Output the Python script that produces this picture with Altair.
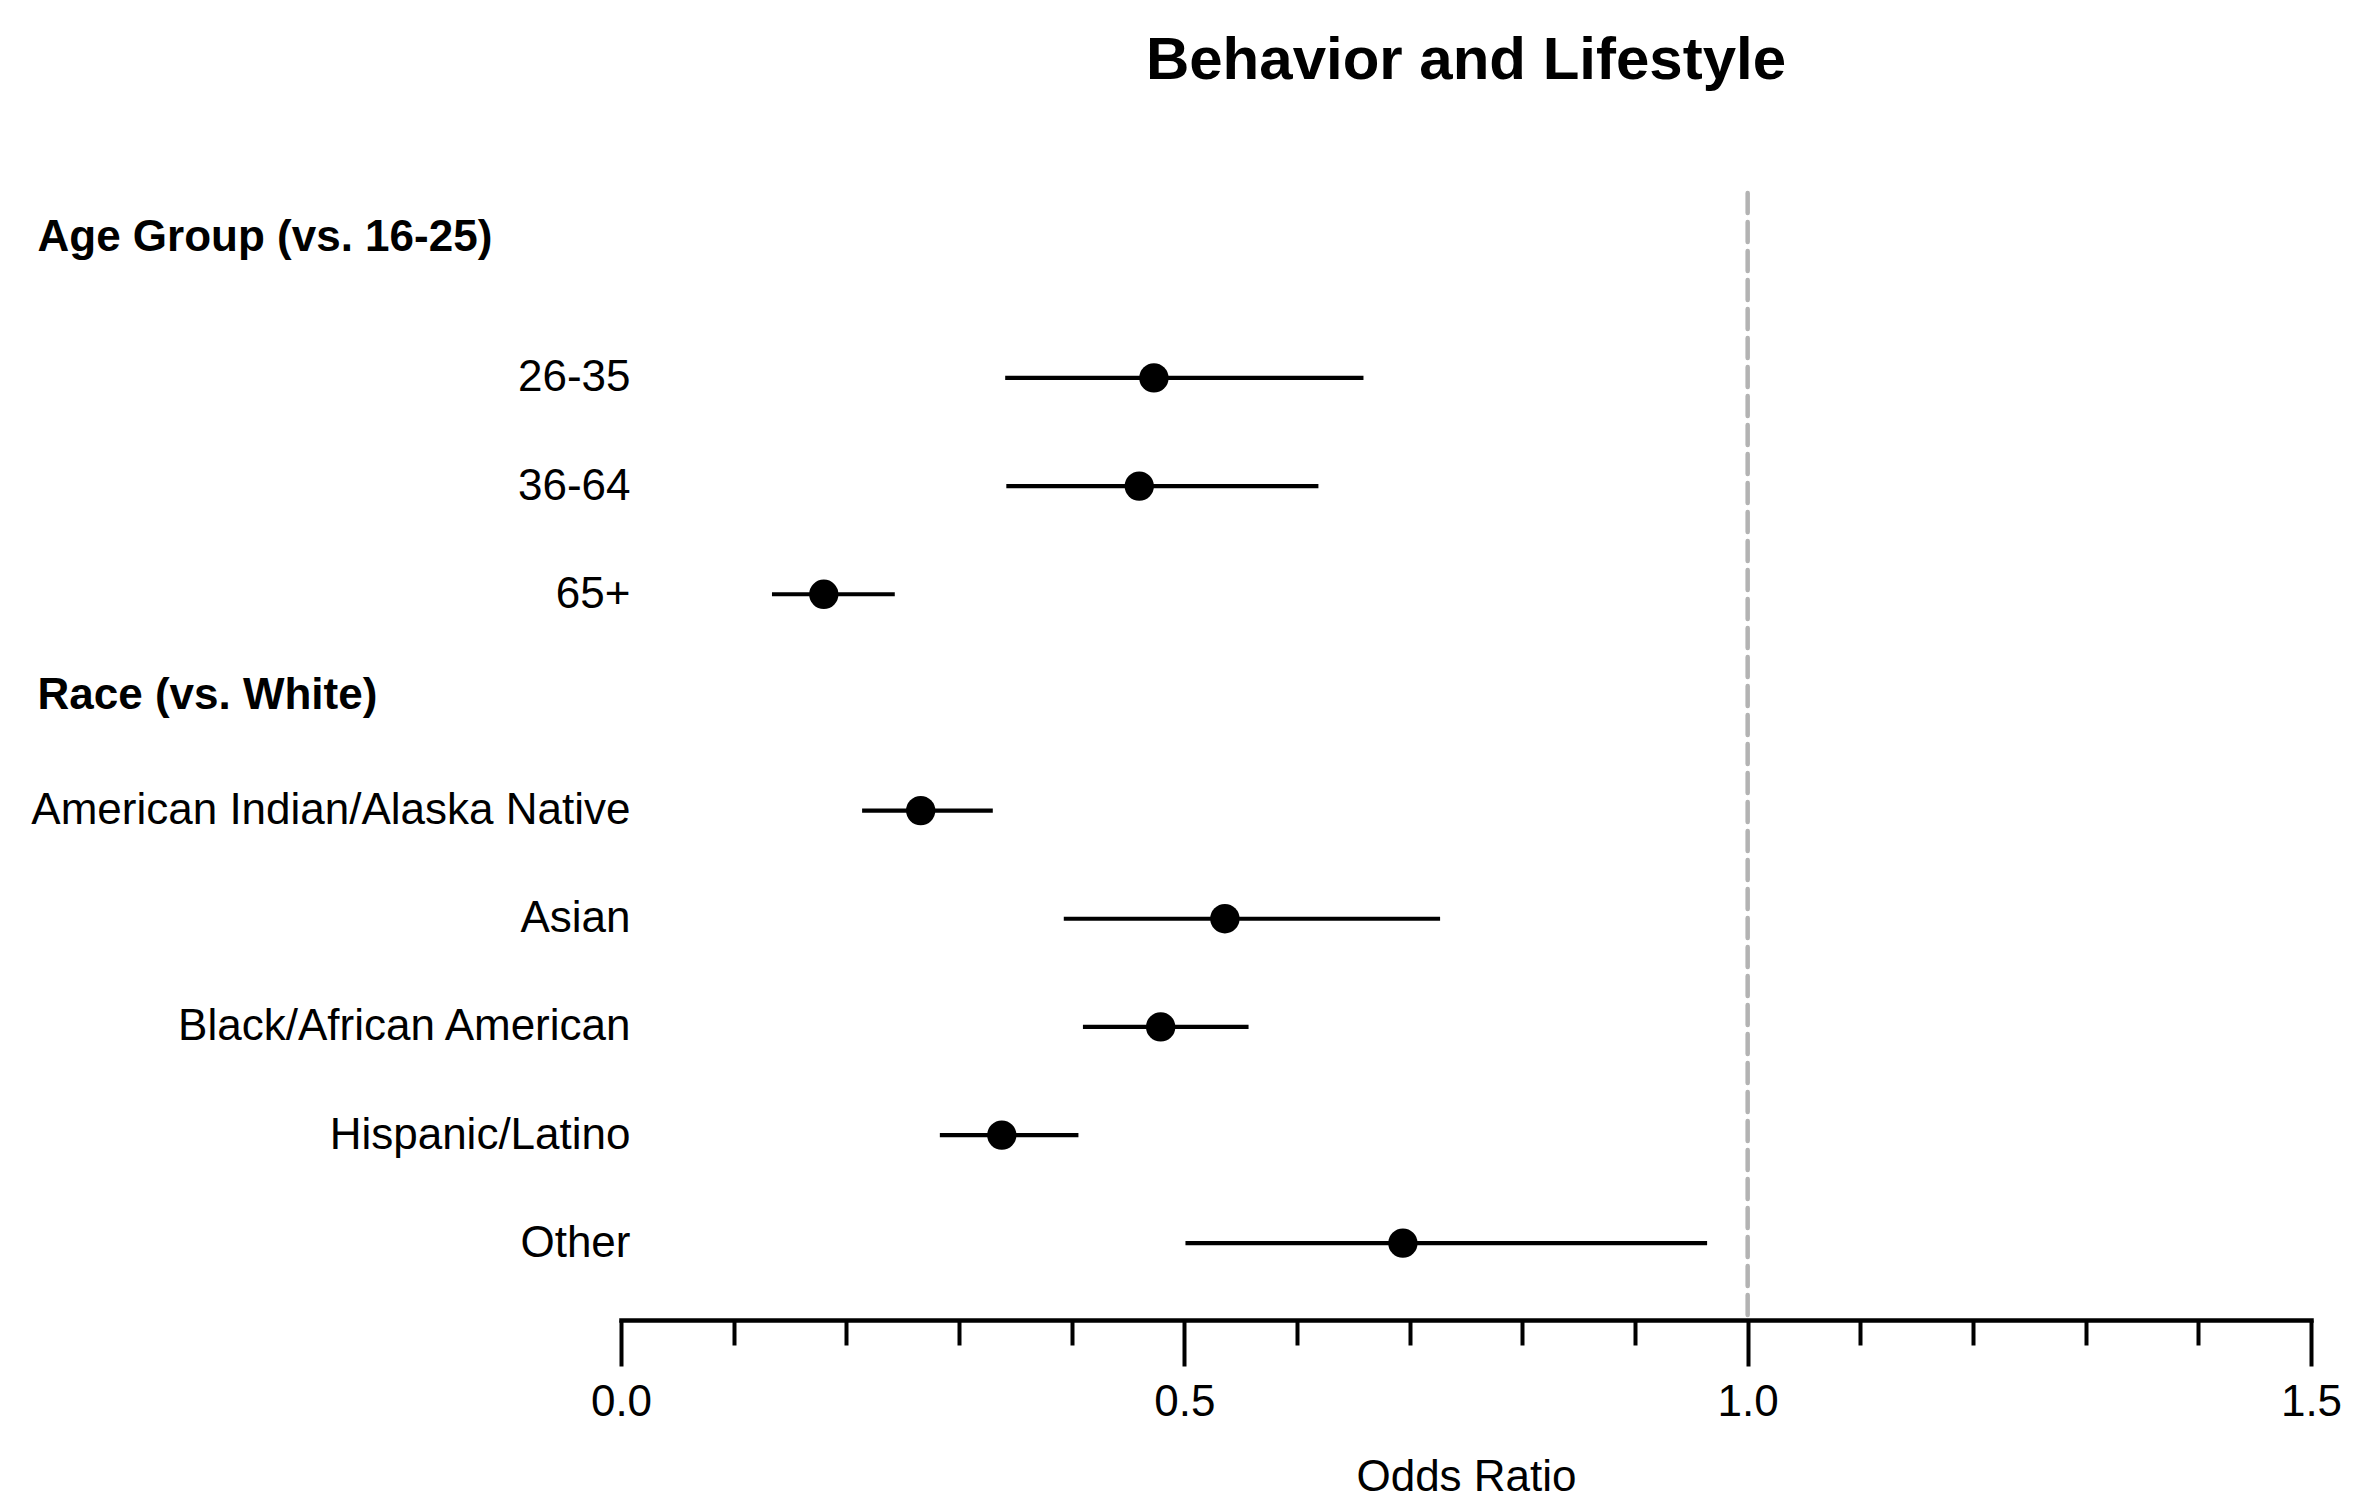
import altair as alt
import pandas as pd

AGE_HDR = "Age Group (vs. 16-25)"
RACE_HDR = "Race (vs. White)"

categories = [
    "26-35", "36-64", "65+",
    "American Indian/Alaska Native", "Asian", "Black/African American",
    "Hispanic/Latino", "Other",
]
odds = [0.473, 0.460, 0.180, 0.266, 0.536, 0.479, 0.338, 0.694]
ci_low = [0.341, 0.342, 0.134, 0.214, 0.393, 0.410, 0.283, 0.501]
ci_high = [0.659, 0.619, 0.243, 0.330, 0.727, 0.557, 0.406, 0.964]

row_order = [AGE_HDR, "26-35", "36-64", "65+", RACE_HDR,
             "American Indian/Alaska Native", "Asian", "Black/African American",
             "Hispanic/Latino", "Other"]
headers = [AGE_HDR, RACE_HDR]
x_ticks = [0.0, 0.1, 0.2, 0.3, 0.4, 0.5, 0.6, 0.7, 0.8, 0.9, 1.0,
           1.1, 1.2, 1.3, 1.4, 1.5]
ref_value = [1.0]

df = pd.DataFrame({"cat": categories, "or": odds, "lo": ci_low, "hi": ci_high})
hdr = pd.DataFrame({"cat": headers})
ref = pd.DataFrame({"v": ref_value})

FONT = "Liberation Sans"
is_hdr = f"datum.value == '{AGE_HDR}' || datum.value == '{RACE_HDR}'"
is_major = "abs(datum.value*2 - round(datum.value*2)) < 1e-6"

y_enc = alt.Y(
    "cat:N",
    sort=row_order,
    scale=alt.Scale(domain=row_order, type="point", padding=0.71),
    axis=alt.Axis(
        title=None, domain=False, ticks=False, tickSize=0, grid=False,
        labelFont=FONT, labelFontSize=44, labelColor="black", labelLimit=2000,
        labelAlign={"condition": {"test": is_hdr, "value": "left"}, "value": "right"},
        labelFontWeight={"condition": {"test": is_hdr, "value": "bold"}, "value": "normal"},
        labelPadding={"condition": {"test": is_hdr, "value": 584}, "value": -9},
        labelOffset={"condition": [
            {"test": f"datum.value == '{AGE_HDR}'", "value": -32},
            {"test": f"datum.value == '{RACE_HDR}'", "value": -7},
        ], "value": 0},
    ),
)

x_scale = alt.Scale(domain=[0, 1.5], nice=False, zero=False)
x_axis = alt.Axis(
    title="Odds Ratio", values=x_ticks, format=".1f",
    labelExpr=f"{is_major} ? datum.label : ''",
    grid=False, domainColor="black", domainWidth=4.5, tickColor="black", tickWidth=4,
    tickSize={"condition": {"test": is_major, "value": 46}, "value": 25},
    labelFont=FONT, labelFontSize=44, labelColor="black", labelPadding=14,
    titleFont=FONT, titleFontSize=44, titleFontWeight="normal", titleColor="black",
    titlePadding=31, labelFlush=False, domainCap="square",
)

base = alt.Chart(df)

rules = base.mark_rule(color="black", strokeWidth=4.2).encode(
    x=alt.X("lo:Q", scale=x_scale, axis=x_axis),
    x2="hi:Q",
    y=y_enc,
)
points = base.mark_circle(color="black", opacity=1, size=860).encode(
    x=alt.X("or:Q", scale=x_scale),
    y=alt.Y("cat:N", sort=row_order),
)
hdr_layer = alt.Chart(hdr).mark_circle(opacity=0).encode(
    y=alt.Y("cat:N", sort=row_order),
    x=alt.value(0),
)
refline = alt.Chart(ref).mark_rule(
    color="#b3b3b3", strokeWidth=4.5, strokeDash=[20, 9], strokeCap="round"
).encode(x=alt.X("v:Q", scale=x_scale))

chart = alt.layer(refline, rules, points, hdr_layer).properties(
    width=1690, height=1127,
    background="white",
    title=alt.TitleParams(
        "Behavior and Lifestyle", font=FONT, fontSize=60, fontWeight="bold",
        color="black", anchor="middle", offset=99,
    ),
    padding={"left": 22, "top": 22, "right": 0, "bottom": 0},
).configure_view(stroke=None)

chart.save("out.html", embed_options={"renderer": "svg", "actions": False})
